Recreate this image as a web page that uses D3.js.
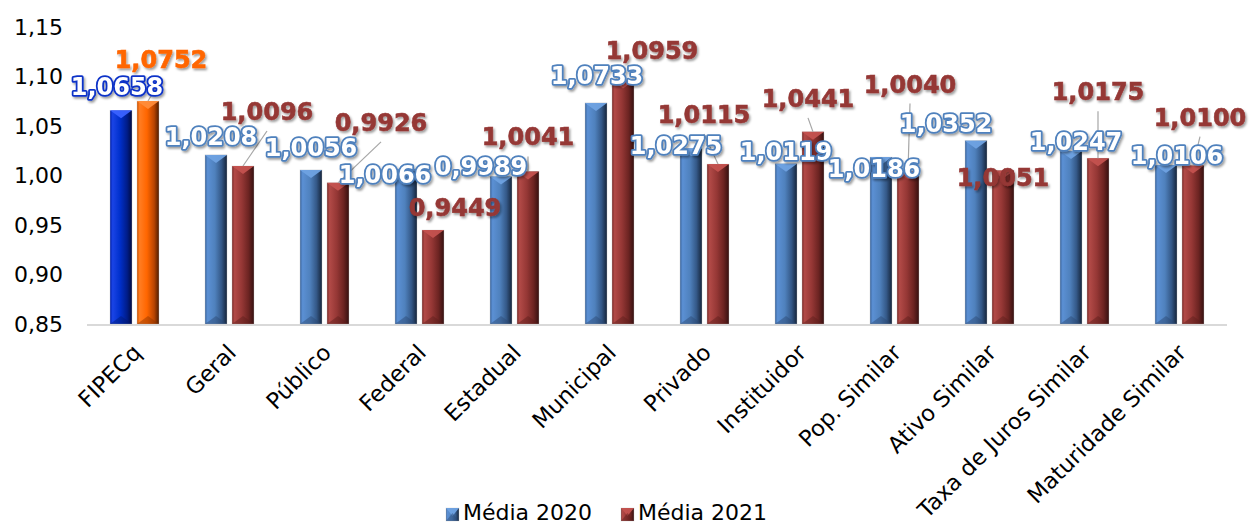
<!DOCTYPE html>
<html>
<head>
<meta charset="utf-8">
<script src="https://cdn.jsdelivr.net/npm/d3@7/dist/d3.min.js"></script>
<style>
  html, body { margin: 0; padding: 0; background: #fff; }
  svg { display: block; }
</style>
</head>
<body>
<svg id="chart" width="1251" height="526"></svg>
<script>
// ---- data ----
const categories = ["FIPECq","Geral","Público","Federal","Estadual","Municipal","Privado","Instituidor","Pop. Similar","Ativo Similar","Taxa de Juros Similar","Maturidade Similar"];
const seriesNames = ["Média 2020","Média 2021"];
const media2020 = [1.0658,1.0208,1.0056,1.0066,0.9989,1.0733,1.0275,1.0119,1.0186,1.0352,1.0247,1.0106];
const media2021 = [1.0752,1.0096,0.9926,0.9449,1.0041,1.0959,1.0115,1.0441,1.0040,1.0051,1.0175,1.0100];
const yTicks = [0.85,0.90,0.95,1.00,1.05,1.10,1.15];

// ---- label layout (pixel offsets from bar top centre, as placed in the original) ----
const labelShift2020 = [[-4,-23],[-5,-18],[0,-22],[-21,6],[-20,-10],[1,-27],[-15,-2],[0,-12],[-7,12],[-30,-17],[5,-9],[11,-9]];
const labelShift2021 = [[13,-41],[24,-54],[43,-60],[22,-22],[0,-34],[29,-30],[-14,-49],[-5,-33],[2,-87],[0,8],[0,-66],[7,-48]];
const leader2021 = [true,true,true,false,true,false,true,true,true,false,true,true];

const svg = d3.select("#chart");
const locale = d3.formatLocale({decimal: ",", thousands: ".", grouping: [3], currency: ["R$", ""]});
const fmt4 = locale.format(".4f");
const fmt2 = locale.format(".2f");

const x = d3.scaleBand().domain(categories).range([87, 1227]).paddingInner(0).paddingOuter(0);
const xs = d3.scaleBand().domain(seriesNames).range([23, 72]).paddingInner(0.185).paddingOuter(0);
const y = d3.scaleLinear().domain([0.85, 1.15]).range([324, 27]);

// ---- gradients & filters ----
const defs = svg.append("defs");
function grad(id, stops) {
  const g = defs.append("linearGradient").attr("id", id).attr("x1", "0%").attr("x2", "100%").attr("y1", "0%").attr("y2", "0%");
  stops.forEach(s => g.append("stop").attr("offset", s[0]).attr("stop-color", s[1]));
}
grad("gBlue",  [["0%","#3b659c"],["12%","#5b90d4"],["45%","#4f81bd"],["75%","#345887"],["100%","#15243a"]]);
grad("gRed",   [["0%","#7a2b29"],["12%","#b24a47"],["45%","#953735"],["75%","#6c2422"],["100%","#351010"]]);
grad("gDBlue", [["0%","#0020a8"],["12%","#1a44e6"],["45%","#0030cc"],["78%","#001c88"],["100%","#000a40"]]);
grad("gOrange",[["0%","#cc5200"],["12%","#ff7d22"],["45%","#ff6600"],["78%","#b84400"],["100%","#4d1c00"]]);

const sh = defs.append("filter").attr("id", "shadow").attr("x", "-20%").attr("y", "-30%").attr("width", "140%").attr("height", "170%");
sh.append("feDropShadow").attr("dx", 1.5).attr("dy", 2).attr("stdDeviation", 1.3).attr("flood-color", "#000").attr("flood-opacity", 0.38);

const colors = {
  blue:   {fill: "url(#gBlue)",   top: "#6fa2e2", bot: "#2a4670"},
  red:    {fill: "url(#gRed)",    top: "#c4524f", bot: "#5a1c1a"},
  dblue:  {fill: "url(#gDBlue)",  top: "#3a62ff", bot: "#001870"},
  orange: {fill: "url(#gOrange)", top: "#ff8c3a", bot: "#8a3400"}
};

// ---- baseline ----
svg.append("line").attr("x1", 87).attr("x2", 1227).attr("y1", y(0.85) + 1).attr("y2", y(0.85) + 1)
  .attr("stroke", "#d9d9d9").attr("stroke-width", 2);

// ---- y axis ----
const yAxis = svg.append("g").attr("transform", "translate(87,0)")
  .call(d3.axisLeft(y).tickValues(yTicks).tickSize(0).tickPadding(24).tickFormat(d => fmt2(d)));
yAxis.select(".domain").remove();
yAxis.selectAll("text").attr("font-family", "DejaVu Sans, Verdana, sans-serif").attr("font-size", 22).attr("fill", "#000");

// ---- x axis ----
const xAxis = svg.append("g").attr("transform", `translate(0,${y(0.85)})`)
  .call(d3.axisBottom(x).tickSize(0).tickPadding(0));
xAxis.select(".domain").remove();
xAxis.selectAll("text")
  .attr("font-family", "DejaVu Sans, Verdana, sans-serif").attr("font-size", 22.5).attr("fill", "#000")
  .attr("text-anchor", "end").attr("dy", null).attr("y", 0)
  .attr("transform", "translate(8,30) rotate(-45)");

// ---- bars ----
function drawBar(g, cx, top, bottom, w, c) {
  const x0 = cx - w / 2, x1 = cx + w / 2;
  g.append("rect").attr("x", x0).attr("y", top).attr("width", w).attr("height", bottom - top).attr("fill", c.fill)
    .attr("stroke", "rgba(200,200,200,0.6)").attr("stroke-width", 0.6);
  g.append("path").attr("d", `M${x0},${top}L${x1},${top}L${cx},${top + 8}Z`).attr("fill", c.top).attr("opacity", 0.95);
  g.append("path").attr("d", `M${x0},${bottom}L${x1},${bottom}L${cx},${bottom - 8}Z`).attr("fill", c.bot).attr("opacity", 0.45);
}

const barsG = svg.append("g");
const bw = xs.bandwidth();
categories.forEach((cat, i) => {
  const c20 = x(cat) + xs(seriesNames[0]) + bw / 2;
  const c21 = x(cat) + xs(seriesNames[1]) + bw / 2;
  drawBar(barsG, c20, y(media2020[i]), y(0.85), bw, i === 0 ? colors.dblue : colors.blue);
  drawBar(barsG, c21, y(media2021[i]), y(0.85), bw, i === 0 ? colors.orange : colors.red);
});

// ---- leader lines ----
const leadG = svg.append("g");
categories.forEach((cat, i) => {
  if (!leader2021[i]) return;
  const cx = x(cat) + xs(seriesNames[1]) + bw / 2;
  const top = y(media2021[i]);
  const lx = cx + labelShift2021[i][0], ly = top + labelShift2021[i][1];
  leadG.append("line").attr("x1", cx).attr("y1", top).attr("x2", lx).attr("y2", ly + 19)
    .attr("stroke", "#a6a6a6").attr("stroke-width", 1.2);
});

// ---- data labels ----
const labG = svg.append("g").attr("font-family", "DejaVu Sans, Verdana, sans-serif").attr("font-weight", "bold").attr("font-size", 24);
categories.forEach((cat, i) => {
  const c21 = x(cat) + xs(seriesNames[1]) + bw / 2;
  labG.append("text")
    .attr("x", c21 + labelShift2021[i][0]).attr("y", y(media2021[i]) + labelShift2021[i][1])
    .attr("text-anchor", "middle").attr("dominant-baseline", "central")
    .attr("fill", i === 0 ? "#ff6600" : "#953735").attr("stroke", i === 0 ? "#ff6600" : "#953735").attr("stroke-width", 0.6)
    .attr("filter", "url(#shadow)")
    .text(fmt4(media2021[i]));
});
categories.forEach((cat, i) => {
  const c20 = x(cat) + xs(seriesNames[0]) + bw / 2;
  labG.append("text")
    .attr("x", c20 + labelShift2020[i][0]).attr("y", y(media2020[i]) + labelShift2020[i][1])
    .attr("text-anchor", "middle").attr("dominant-baseline", "central")
    .attr("fill", "#fff").attr("stroke", i === 0 ? "#0a32c8" : "#4f81bd").attr("stroke-width", 3.6)
    .attr("stroke-linejoin", "round").attr("paint-order", "stroke").attr("filter", "url(#shadow)")
    .text(fmt4(media2020[i]));
});

// ---- legend ----
const legG = svg.append("g").attr("font-family", "DejaVu Sans, Verdana, sans-serif").attr("font-size", 22);
const legItems = [
  {name: seriesNames[0], c: colors.blue, x: 446},
  {name: seriesNames[1], c: colors.red, x: 621}
];
legItems.forEach(it => {
  const g = legG.append("g");
  drawBar(g, it.x + 6.5, 508, 521, 13, it.c);
  g.append("text").attr("x", it.x + 17).attr("y", 520).attr("fill", "#000").text(it.name);
});
</script>
</body>
</html>
